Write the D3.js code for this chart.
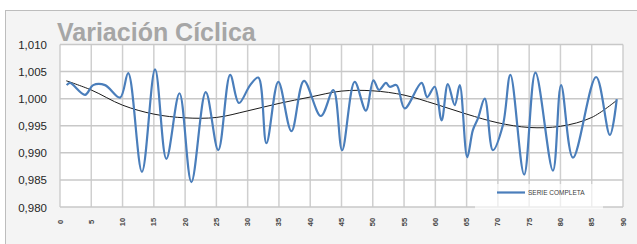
<!DOCTYPE html>
<html>
<head>
<meta charset="utf-8">
<script src="https://cdn.jsdelivr.net/npm/d3@7"></script>
<style>
  body { margin: 0; background: #fff; }
  svg { display: block; }
</style>
</head>
<body>
<div id="chart"></div>
<script>
// serie completa (x = periodo, v = indice)
const serieX = [1.07, 1.6, 4.0, 5.3, 7.2, 9.6, 10.9, 13.1, 15.2, 17.0, 19.1, 21.0, 23.3, 25.3, 27.2, 28.6,
    30.4, 31.7, 33.0, 34.9, 37.0, 39.0, 41.7, 43.7, 45.1, 47.1, 48.9, 50.1, 51.0, 52.1, 52.7, 53.8, 55.1,
    57.8, 58.7, 59.9, 61.0, 62.0, 63.1, 63.9, 65.1, 66.0, 66.8, 67.9, 69.2, 70.8, 72.0, 74.2, 76.0, 78.8,
    80.1, 82.0, 85.7, 87.9, 89.0];
const serieV = [1.0025, 1.0029, 1.0007, 1.0025, 1.0025, 1.0002, 1.0047, 0.9865, 1.0054, 0.9889, 1.0010,
    0.9846, 1.0012, 0.9905, 1.0044, 0.9992, 1.0025, 1.0039, 0.9918, 1.0031, 0.9940, 1.0033, 0.9968,
    1.0016, 0.9905, 1.0031, 0.9978, 1.0034, 1.0016, 1.0029, 1.0022, 1.0025, 0.9982, 1.0029, 1.0003,
    1.0022, 0.9960, 1.0027, 0.9988, 1.0025, 0.9892, 0.9942, 0.9963, 1.0000, 0.9905, 0.9951, 1.0044,
    0.9860, 1.0048, 0.9867, 1.0025, 0.9891, 1.0040, 0.9933, 0.9999];

// componente ciclica (linea negra)
const cicloX = [1, 5, 10, 15, 20, 25, 30, 35, 40, 45, 50, 55, 60, 65, 70, 75, 80, 85, 89];
const cicloV = [1.0033, 1.0016, 0.9988, 0.99715, 0.99646, 0.99653, 0.99775, 0.99912, 1.0003, 1.0014,
    1.00145, 1.00066, 0.9990, 0.99715, 0.99555, 0.99468, 0.9949, 0.99653, 0.9997];

const xTicks = d3.range(0, 91, 5);
const yTicks = [0.980, 0.985, 0.990, 0.995, 1.000, 1.005, 1.010];

const W = 637, H = 244;
const plotLeft = 60, plotRight = 623, plotTop = 44.5, plotBottom = 207;

const svg = d3.select('#chart').append('svg').attr('width', W).attr('height', H);

// marco exterior
svg.append('rect')
    .attr('x', 5.5).attr('y', 10.5)
    .attr('width', 640).attr('height', 250)
    .attr('fill', '#f4f4f4')
    .attr('stroke', '#bdbdbd');

svg.append('rect')
    .attr('x', plotLeft).attr('y', plotTop)
    .attr('width', plotRight - plotLeft).attr('height', plotBottom - plotTop)
    .attr('fill', '#fff');

const x = d3.scaleLinear().domain([0, 90]).range([plotLeft, plotRight]);
const y = d3.scaleLinear().domain([0.980, 1.010]).range([plotBottom, plotTop]);

// rejilla
svg.append('g')
    .selectAll('line')
    .data(xTicks)
    .enter()
    .append('line')
    .attr('x1', d => x(d)).attr('x2', d => x(d))
    .attr('y1', plotTop).attr('y2', plotBottom)
    .attr('stroke', '#cfcfcf')
    .attr('stroke-width', 1.5);

svg.append('g')
    .selectAll('line')
    .data(yTicks)
    .enter()
    .append('line')
    .attr('x1', plotLeft).attr('x2', plotRight)
    .attr('y1', d => y(d)).attr('y2', d => y(d))
    .attr('stroke', '#c8c8c8')
    .attr('stroke-width', 1.5);

// eje y
const yAxis = svg.append('g')
    .attr('transform', 'translate(' + (plotLeft - 13) + ',0)')
    .call(d3.axisLeft(y).tickValues(yTicks).tickSize(0)
        .tickFormat(d => d.toFixed(3).replace('.', ',')));
yAxis.select('.domain').remove();
yAxis.selectAll('text')
    .attr('x', 0)
    .attr('dy', '0.35em')
    .style('font-family', 'Liberation Sans, Arial, sans-serif')
    .style('font-size', '11.5px')
    .attr('fill', '#262626');

// eje x (etiquetas giradas)
svg.append('g')
    .selectAll('text')
    .data(xTicks)
    .enter()
    .append('text')
    .attr('transform', d => 'translate(' + (x(d) + 2.5) + ',222) rotate(-90)')
    .attr('text-anchor', 'middle')
    .style('font-family', 'Liberation Sans, Arial, sans-serif')
    .style('font-size', '7.5px')
    .style('font-weight', 'bold')
    .attr('fill', '#444')
    .text(d => d);

// leyenda (fondo)
svg.append('rect')
    .attr('x', 475).attr('y', 184)
    .attr('width', 128).attr('height', 25)
    .attr('fill', '#fff')
    .attr('opacity', 0.65);

// series
const line = d3.line()
    .x(d => x(d[0]))
    .y(d => y(d[1]))
    .curve(d3.curveCatmullRom.alpha(0.5));

svg.append('path')
    .datum(d3.zip(cicloX, cicloV))
    .attr('d', line)
    .attr('fill', 'none')
    .attr('stroke', '#1a1a1a')
    .attr('stroke-width', 1);

svg.append('path')
    .datum(d3.zip(serieX, serieV))
    .attr('d', line)
    .attr('fill', 'none')
    .attr('stroke', '#4a7ebb')
    .attr('stroke-width', 2.2)
    .attr('stroke-linejoin', 'round');

// leyenda
svg.append('line')
    .attr('x1', 497).attr('x2', 525)
    .attr('y1', 192.5).attr('y2', 192.5)
    .attr('stroke', '#4a7ebb')
    .attr('stroke-width', 2.2);

svg.append('text')
    .attr('x', 528).attr('y', 195)
    .style('font-family', 'Liberation Sans, Arial, sans-serif')
    .style('font-size', '6.5px')
    .attr('fill', '#404040')
    .text('SERIE COMPLETA');

// titulo
svg.append('text')
    .attr('x', 57).attr('y', 41)
    .style('font-family', 'Liberation Sans, Arial, sans-serif')
    .style('font-size', '25px')
    .style('font-weight', 'bold')
    .attr('fill', '#a6a6a6')
    .text('Variación Cíclica');
</script>
</body>
</html>
